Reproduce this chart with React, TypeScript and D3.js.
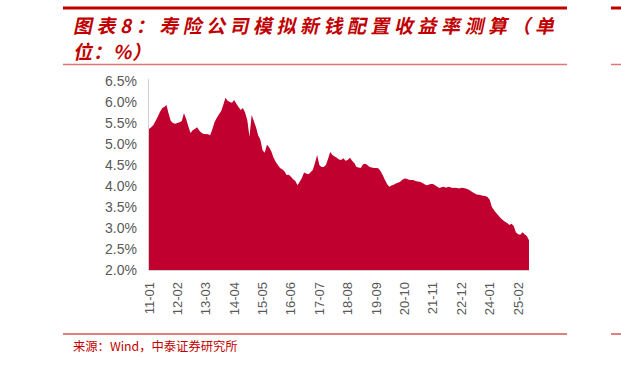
import React from "react";
import * as d3 from "d3";

const startYear = 2011;
const values: number[] = [
  5.36, 5.40, 5.45, 5.55, 5.65, 5.76, 5.85, 5.88, 5.93, 5.72, 5.55, 5.50,
  5.48, 5.50, 5.52, 5.55, 5.73, 5.60, 5.42, 5.26, 5.33, 5.36, 5.40, 5.32,
  5.27, 5.24, 5.24, 5.23, 5.21, 5.35, 5.52, 5.62, 5.70, 5.78, 5.93, 6.10,
  6.03, 6.00, 5.98, 6.05, 5.96, 5.88, 5.81, 5.86, 5.75, 5.57, 5.17, 5.69,
  5.55, 5.40, 5.20, 5.10, 4.85, 4.79, 4.98, 4.92, 4.83, 4.68, 4.58, 4.50,
  4.43, 4.40, 4.35, 4.26, 4.27, 4.22, 4.16, 4.12, 4.02, 4.10, 4.19, 4.32,
  4.30, 4.28, 4.33, 4.38, 4.55, 4.74, 4.50, 4.45, 4.45, 4.50, 4.65, 4.81,
  4.74, 4.70, 4.67, 4.63, 4.62, 4.66, 4.60, 4.62, 4.67, 4.60, 4.55, 4.45,
  4.44, 4.43, 4.52, 4.53, 4.50, 4.45, 4.44, 4.43, 4.43, 4.42, 4.36, 4.26,
  4.15, 4.05, 3.98, 4.01, 4.03, 4.06, 4.08, 4.10, 4.15, 4.18, 4.17, 4.15,
  4.14, 4.14, 4.12, 4.11, 4.10, 4.08, 4.05, 4.02, 4.03, 4.05, 4.05, 4.02,
  3.98, 3.95, 3.97, 3.98, 3.96, 3.98, 3.97, 3.95, 3.96, 3.95, 3.94, 3.96,
  3.95, 3.94, 3.92, 3.89, 3.86, 3.83, 3.80, 3.79, 3.78, 3.77, 3.76, 3.74,
  3.67, 3.50, 3.42, 3.36, 3.30, 3.24, 3.19, 3.15, 3.12, 3.07, 3.10, 3.05,
  2.90, 2.85, 2.84, 2.90, 2.85, 2.81, 2.71,
];
const yTicks: number[] = [2.0, 2.5, 3.0, 3.5, 4.0, 4.5, 5.0, 5.5, 6.0, 6.5];
const labelStep = 13;

const labelFor = (i: number) => {
  const y = startYear + Math.floor(i / 12);
  const m = (i % 12) + 1;
  return `${String(y % 100).padStart(2, "0")}-${String(m).padStart(2, "0")}`;
};

export default function App() {
  const W = 621, H = 365;
  const x0 = 149, x1 = 529, yTop = 81, yBot = 270;
  const x = d3.scaleLinear().domain([0, values.length - 1]).range([x0, x1]);
  const y = d3.scaleLinear().domain([2.0, 6.5]).range([yBot, yTop]);
  const area = d3
    .area<number>()
    .x((_, i) => x(i))
    .y0(y(2.0))
    .y1((d) => y(d));
  const tickIdx = d3.range(0, values.length, labelStep);
  const red = "#C00000";
  const grey = "#595959";
  return (
    <svg width={W} height={H} style={{ position: "absolute", left: 0, top: 0 }}>
      <rect width={W} height={H} fill="#fff" />
      <line x1={63} x2={567} y1={8} y2={8} stroke={red} strokeWidth={3} />
      <line x1={611} x2={621} y1={8} y2={8} stroke={red} strokeWidth={3} />
      <g fill={red} fontFamily="'Noto Sans CJK SC', sans-serif" fontWeight="bold" fontSize={19}>
        <text x={73} y={33} transform="skewX(-12) translate(7,0)" style={{ letterSpacing: "4.5px" }}>
          图表8：寿险公司模拟新钱配置收益率测算（单
        </text>
        <text x={73} y={59} transform="skewX(-12) translate(12.5,0)" style={{ letterSpacing: "1px" }}>
          位：%）
        </text>
      </g>
      <line x1={63} x2={567} y1={64.5} y2={64.5} stroke="#E07575" strokeWidth={1.5} />
      <line x1={611} x2={621} y1={64.5} y2={64.5} stroke="#E07575" strokeWidth={1.5} />
      <path d={area(values) || ""} fill="#C0002F" />
      <line x1={x0 - 0.5} x2={x0 - 0.5} y1={yTop - 2} y2={yBot} stroke="#D0D0D0" strokeWidth={1} />
      <line x1={x0 - 0.5} x2={x1} y1={yBot + 0.5} y2={yBot + 0.5} stroke="#D0D0D0" strokeWidth={1} />
      <g fill={grey} fontFamily="'Liberation Sans', Arial, sans-serif" fontSize={14}>
        {yTicks.map((t) => (
          <text key={t} x={137} y={y(t)} textAnchor="end" dominantBaseline="central">
            {t.toFixed(1)}%
          </text>
        ))}
      </g>
      <g fill={grey} fontFamily="'Liberation Sans', Arial, sans-serif" fontSize={13}>
        {tickIdx.map((i) => (
          <text
            key={i}
            transform={`translate(${x(i)},282) rotate(-90)`}
            textAnchor="end"
            dominantBaseline="central"
          >
            {labelFor(i)}
          </text>
        ))}
      </g>
      <line x1={63} x2={567} y1={334} y2={334} stroke={red} strokeWidth={1} />
      <line x1={611} x2={621} y1={334} y2={334} stroke={red} strokeWidth={1} />
      <text x={73} y={351} fill={red} fontFamily="'Noto Sans CJK SC', sans-serif" fontSize={12.3}>
        来源：Wind，中泰证券研究所
      </text>
    </svg>
  );
}
